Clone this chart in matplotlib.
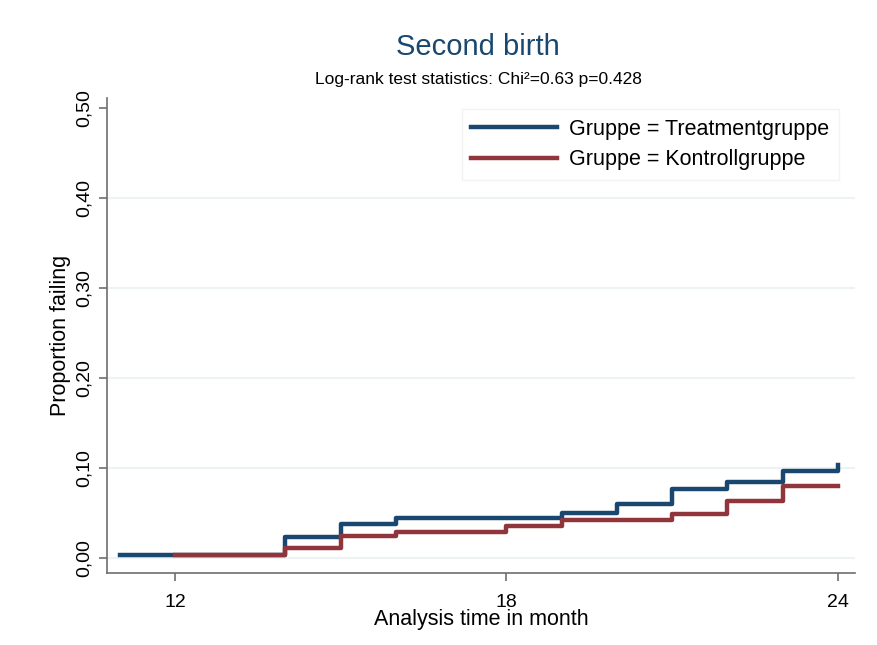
import matplotlib
matplotlib.use("Agg")
import matplotlib.pyplot as plt

plt.rcParams['font.family'] = ['Liberation Sans', 'DejaVu Sans']

# Data
treat_time = [11, 14, 15, 16, 19, 20, 21, 22, 23, 24]
treat_fail = [0.003, 0.023, 0.038, 0.044, 0.050, 0.060, 0.077, 0.084, 0.097, 0.103]
ctrl_time = [12, 14, 15, 16, 18, 19, 21, 22, 23, 24]
ctrl_fail = [0.003, 0.011, 0.024, 0.029, 0.035, 0.042, 0.049, 0.063, 0.080, 0.080]

yticks = [0.0, 0.1, 0.2, 0.3, 0.4, 0.5]
ytick_labels = ["0,00", "0,10", "0,20", "0,30", "0,40", "0,50"]
xticks = [12, 18, 24]

navy = "#1a476f"
maroon = "#90353b"

fig = plt.figure(figsize=(8.77, 6.45), dpi=100)
ax = fig.add_axes([0.122, 0.1116, 0.853, 0.736])

for g in yticks[:-1]:
    ax.axhline(g, color="#edf3f3", lw=1.5, zorder=0)

ax.step(treat_time, treat_fail, where="post", color=navy, lw=3.2,
        label="Gruppe = Treatmentgruppe", zorder=3)
ax.step(ctrl_time, ctrl_fail, where="post", color=maroon, lw=3.2,
        label="Gruppe = Kontrollgruppe", zorder=4)

ax.set_xlim(10.77, 24.31)
ax.set_ylim(-0.017, 0.511)
ax.set_xticks(xticks)
ax.set_xticklabels([str(x) for x in xticks], fontsize=14)
ax.set_yticks(yticks)
ax.set_yticklabels(ytick_labels, fontsize=14, rotation=90, va="center")

for s in ["top", "right"]:
    ax.spines[s].set_visible(False)
for s in ["left", "bottom"]:
    ax.spines[s].set_color("#6e6e6e")
    ax.spines[s].set_linewidth(1.2)
ax.tick_params(axis="x", color="#6e6e6e", length=6, width=1.2, pad=9)
ax.tick_params(axis="y", color="#6e6e6e", length=6, width=1.2, pad=4)

ax.set_xlabel("Analysis time in month", fontsize=15.5, labelpad=-1)
ax.set_ylabel("Proportion failing", fontsize=15.5, labelpad=4)

fig.text(0.545, 0.927, "Second birth", ha="center", va="center",
         fontsize=21, color=navy)
fig.text(0.545, 0.877, "Log-rank test statistics: Chi\u00b2=0.63 p=0.428",
         ha="center", va="center", fontsize=12.5, color="black")

leg = ax.legend(loc="upper right", bbox_to_anchor=(0.993, 1.0),
                fontsize=15.5, handlelength=4.0, frameon=True, fancybox=False,
                borderpad=0.45, labelspacing=0.45, handletextpad=0.55)
leg.get_frame().set_edgecolor("#f0f0f0")
leg.get_frame().set_linewidth(1.0)

fig.savefig("out.png", dpi=100, facecolor="white")
